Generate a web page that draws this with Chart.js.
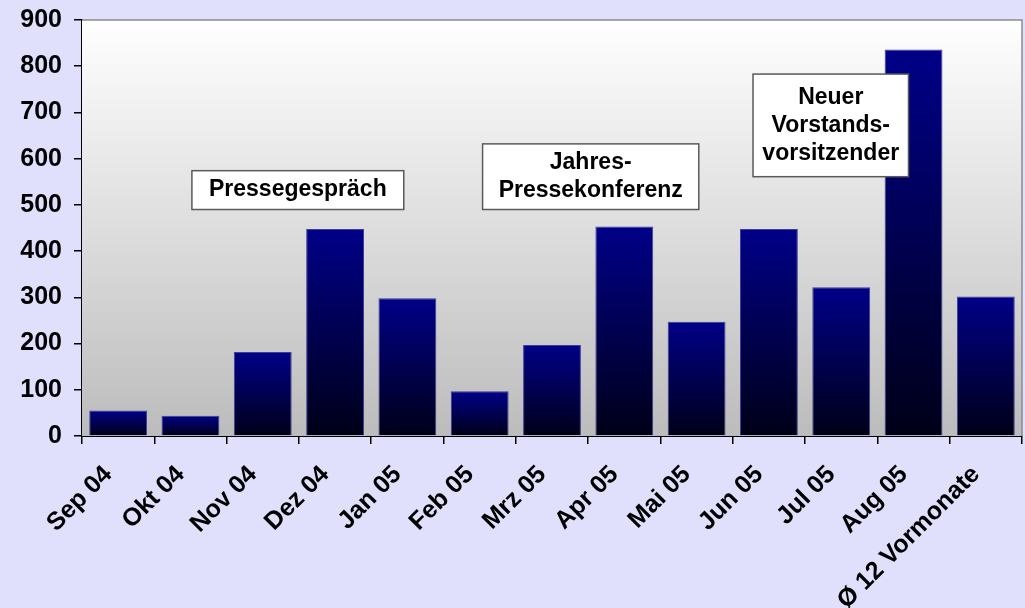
<!DOCTYPE html>
<html><head><meta charset="utf-8">
<script src="https://cdn.jsdelivr.net/npm/chart.js@4/dist/chart.umd.min.js"></script>
<style>html,body{margin:0;padding:0;background:#E0E0FC;overflow:hidden;} #wrap{width:1025px;height:608px;}</style>
</head><body><div id="wrap"><canvas id="c" width="1025" height="608"></canvas></div>
<script>
const categories = ["Sep 04","Okt 04","Nov 04","Dez 04","Jan 05","Feb 05","Mrz 05","Apr 05","Mai 05","Jun 05","Jul 05","Aug 05","Ø 12 Vormonate"];
const values = [55, 44, 182, 448, 298, 97, 197, 453, 247, 448, 322, 836, 302];
const yMin = 0, yMax = 900, yStep = 100;
const noteTexts = [["Pressegespräch"], ["Jahres-","Pressekonferenz"], ["Neuer","Vorstands-","vorsitzender"]];

const FONT = "Arial, 'Liberation Sans', sans-serif";

const plotBg = {
  id: 'plotBg',
  beforeDatasetsDraw(chart) {
    const {ctx, chartArea: a} = chart;
    ctx.save();
    const g = ctx.createLinearGradient(0, a.top, 0, a.bottom);
    g.addColorStop(0, '#ffffff');
    g.addColorStop(1, '#bcbcbc');
    ctx.fillStyle = g;
    ctx.fillRect(a.left, a.top, a.right - a.left, a.bottom - a.top);
    ctx.strokeStyle = '#8a8a8a';
    ctx.lineWidth = 1.5;
    ctx.beginPath();
    ctx.moveTo(a.left, a.top);
    ctx.lineTo(a.right, a.top);
    ctx.lineTo(a.right, a.bottom);
    ctx.stroke();
    ctx.restore();
  }
};

const notesPlugin = {
  id: 'notesPlugin',
  afterDatasetsDraw(chart, args, opts) {
    const {ctx, scales: {x, y}} = chart;
    ctx.save();
    opts.boxes.forEach((b, i) => {
      const l = x.getPixelForValue(b.x0), r = x.getPixelForValue(b.x1);
      const t = y.getPixelForValue(b.y1), bt = y.getPixelForValue(b.y0);
      ctx.fillStyle = '#ffffff';
      ctx.fillRect(l, t, r - l, bt - t);
      ctx.strokeStyle = '#5a5a5a';
      ctx.lineWidth = 1.5;
      ctx.strokeRect(l, t, r - l, bt - t);
      const lines = noteTexts[i];
      ctx.fillStyle = '#000';
      ctx.font = 'bold 23px ' + FONT;
      ctx.textAlign = 'center';
      ctx.textBaseline = 'middle';
      const lh = 28;
      const cy = (t + bt) / 2;
      const cx = (l + r) / 2;
      lines.forEach((s, k) => {
        ctx.fillText(s, cx, cy + (k - (lines.length - 1) / 2) * lh);
      });
    });
    ctx.restore();
  }
};

function barGradient(ctx) {
  const chart = ctx.chart;
  const a = chart.chartArea;
  if (!a || ctx.type !== 'data') return '#000060';
  const ys = chart.scales.y;
  const top = ys.getPixelForValue(ctx.raw);
  const bot = ys.getPixelForValue(0);
  if (!isFinite(top) || top === bot) return '#000060';
  const g = chart.ctx.createLinearGradient(0, top, 0, bot);
  g.addColorStop(0, '#000088');
  g.addColorStop(1, '#000018');
  return g;
}

new Chart(document.getElementById('c'), {
  type: 'bar',
  data: {
    labels: categories,
    datasets: [{
      data: values,
      backgroundColor: barGradient,
      borderColor: '#3c3c9c',
      borderWidth: 1,
      categoryPercentage: 1.0,
      barPercentage: 0.8
    }]
  },
  options: {
    responsive: false,
    animation: false,
    layout: {padding: {left: 0, right: 3, top: 20, bottom: 0}},
    plugins: {
      legend: {display: false},
      tooltip: {enabled: false},
      notesPlugin: {
        boxes: [
          {x0: 1.02, x1: 3.95, y0: 490, y1: 574},
          {x0: 5.04, x1: 8.03, y0: 490, y1: 632},
          {x0: 8.78, x1: 10.93, y0: 561, y1: 783}
        ]
      }
    },
    scales: {
      x: {
        grid: {drawOnChartArea: false, drawTicks: true, tickLength: 8, color: '#000', lineWidth: 1.5, offset: true},
        border: {display: true, color: '#000', width: 2},
        ticks: {
          color: '#000', font: {family: FONT, size: 25, weight: 'bold'},
          maxRotation: 45, minRotation: 45, autoSkip: false, padding: 6,
          callback: (v, i) => categories[i] + '\u00A0\u00A0'
        },
        afterFit(s) { s.height = 172; s.paddingLeft = 0; s.paddingRight = 0; }
      },
      y: {
        min: yMin, max: yMax,
        grid: {drawOnChartArea: false, drawTicks: true, tickLength: 8, color: '#000', lineWidth: 1.5},
        border: {display: true, color: '#000', width: 2},
        ticks: {stepSize: yStep, color: '#000', font: {family: FONT, size: 25, weight: 'bold'}, padding: 12},
        afterFit(s) { s.width = 82; s.paddingTop = 0; s.paddingBottom = 0; }
      }
    }
  },
  plugins: [plotBg, notesPlugin]
});
</script>
</body></html>
